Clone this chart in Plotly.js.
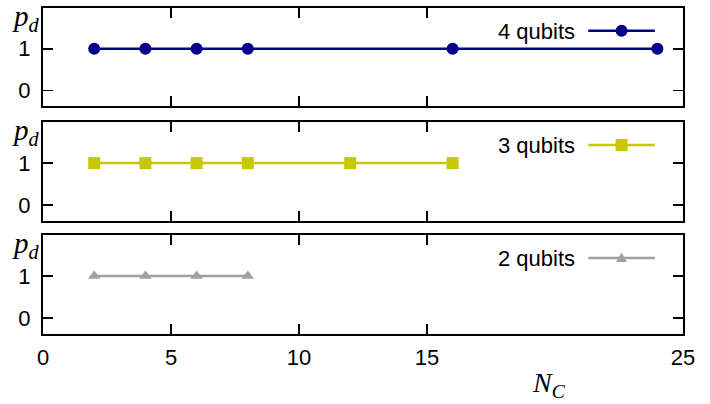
<!DOCTYPE html>
<html>
<head>
<meta charset="utf-8">
<script src="https://cdn.plot.ly/plotly-3.0.1.min.js"></script>
<style>html,body{margin:0;padding:0;background:#fff;}#chart{width:710px;height:404px;}</style>
</head>
<body>
<div id="chart"></div>
<script>
// Data
const x4 = [2, 4, 6, 8, 16, 24];
const y4 = [1, 1, 1, 1, 1, 1];
const x3 = [2, 4, 6, 8, 12, 16];
const y3 = [1, 1, 1, 1, 1, 1];
const x2 = [2, 4, 6, 8];
const y2 = [1, 1, 1, 1];
const seriesNames = ['4 qubits', '3 qubits', '2 qubits'];
const xTickVals = [0, 5, 10, 15, 25];
const yTickVals = [0, 1];

const cNavy = '#000088';
const cYellow = '#c8c800';
const cGray = '#a0a0a0';

const traces = [
  {x: x4, y: y4, xaxis: 'x', yaxis: 'y', mode: 'lines+markers', name: seriesNames[0],
   line: {color: cNavy, width: 2.5}, marker: {symbol: 'circle', size: 12, color: cNavy}, showlegend: false},
  {x: x3, y: y3, xaxis: 'x2', yaxis: 'y2', mode: 'lines+markers', name: seriesNames[1],
   line: {color: cYellow, width: 2.5}, marker: {symbol: 'square', size: 12, color: cYellow}, showlegend: false},
  {x: x2, y: y2, xaxis: 'x3', yaxis: 'y3', mode: 'lines+markers', name: seriesNames[2],
   line: {color: cGray, width: 2.5}, marker: {symbol: 'triangle-up', size: 11, color: cGray}, showlegend: false}
];

const tickFont = {family: 'Liberation Sans, Arial, sans-serif', size: 22, color: '#000'};

function xax(anchor, showLabels) {
  return {range: [0, 25], tickvals: xTickVals, ticks: 'inside', ticklen: 10, tickwidth: 1.5, tickcolor: '#000',
    showline: true, linecolor: '#000', linewidth: 2, mirror: 'ticks', showgrid: false, zeroline: false,
    showticklabels: showLabels, tickfont: tickFont, anchor: anchor, ticklabelstandoff: 3};
}
function yax(dom, anchor) {
  return {range: [-0.38, 1.98], domain: dom, tickvals: yTickVals, ticks: 'inside', ticklen: 10, tickwidth: 1.5, tickcolor: '#000',
    showline: true, linecolor: '#000', linewidth: 2, mirror: 'ticks', showgrid: false, zeroline: false,
    tickfont: tickFont, anchor: anchor, ticklabelstandoff: 6};
}

const colors = [cNavy, cYellow, cGray];
const yrefs = ['y domain', 'y2 domain', 'y3 domain'];
const xrefs = ['x domain', 'x2 domain', 'x3 domain'];
const annotations = [];
const shapes = [];
for (let i = 0; i < 3; i++) {
  annotations.push({xref: xrefs[i], yref: yrefs[i], x: 0.835, y: 0.765, xanchor: 'right', yanchor: 'middle',
    text: seriesNames[i], showarrow: false, font: {family: 'Liberation Sans, Arial, sans-serif', size: 22, color: '#000'}});
  annotations.push({xref: 'paper', yref: yrefs[i], x: -0.026, y: 0.9, xanchor: 'center', yanchor: 'middle',
    text: '<i>p</i><sub><i>d</i></sub>', showarrow: false, font: {family: 'Liberation Serif, serif', size: 29, color: '#000'}});
  shapes.push({type: 'line', xref: xrefs[i], yref: yrefs[i], x0: 0.852, x1: 0.956, y0: 0.768, y1: 0.768,
    line: {color: colors[i], width: 2.5}});
}
// legend markers
shapes.push({type: 'circle', xref: 'x domain', yref: 'y domain', xsizemode: 'pixel', ysizemode: 'pixel',
  xanchor: 0.904, yanchor: 0.768, x0: -6, x1: 6, y0: -6, y1: 6, fillcolor: cNavy, line: {width: 0}});
shapes.push({type: 'rect', xref: 'x2 domain', yref: 'y2 domain', xsizemode: 'pixel', ysizemode: 'pixel',
  xanchor: 0.904, yanchor: 0.768, x0: -6, x1: 6, y0: -6, y1: 6, fillcolor: cYellow, line: {width: 0}});
shapes.push({type: 'path', xref: 'x3 domain', yref: 'y3 domain', xsizemode: 'pixel', ysizemode: 'pixel',
  xanchor: 0.904, yanchor: 0.768, path: 'M-5.5,-4 L5.5,-4 L0,5.5 Z', fillcolor: cGray, line: {width: 0}});

annotations.push({xref: 'paper', yref: 'paper', x: 0.79, y: -0.155, xanchor: 'center', yanchor: 'middle',
  text: '<i>N</i><sub><i>C</i></sub>', showarrow: false, font: {family: 'Liberation Serif, serif', size: 28, color: '#000'}});

const layout = {
  width: 710, height: 404,
  margin: {l: 43, r: 27, t: 8, b: 70},
  paper_bgcolor: '#fff', plot_bgcolor: '#fff',
  showlegend: false,
  xaxis: xax('y', false),
  xaxis2: xax('y2', false),
  xaxis3: xax('y3', true),
  yaxis: yax([0.699, 1], 'x'),
  yaxis2: yax([0.347, 0.650], 'x2'),
  yaxis3: yax([0, 0.304], 'x3'),
  annotations: annotations,
  shapes: shapes
};

Plotly.newPlot('chart', traces, layout, {staticPlot: true, displayModeBar: false});
</script>
</body>
</html>
